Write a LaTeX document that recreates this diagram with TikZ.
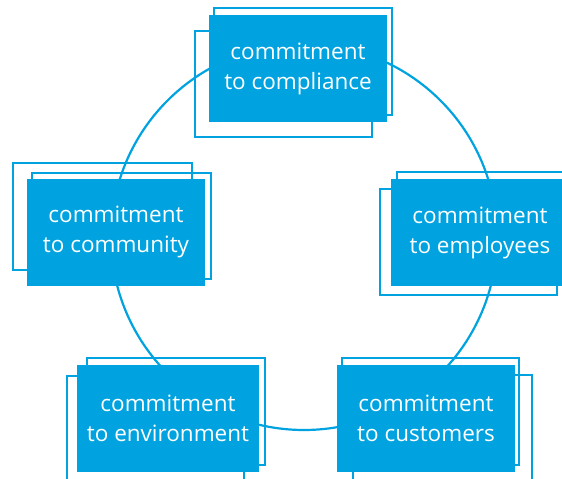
\documentclass[tikz,border=0pt]{standalone}
\usepackage{fontspec}
\setmainfont{Open Sans}
\definecolor{cblue}{RGB}{0,163,223}

\begin{document}
\begin{tikzpicture}[
    x=1pt, y=-1pt,
    pillar/.style={rectangle, fill=cblue, text=white, align=center,
        minimum height=107pt, inner sep=0pt,
        font=\fontsize{22.5}{30}\selectfont},
    frame/.style={draw=cblue, line width=1.2pt},
    ring/.style={draw=cblue, line width=2.2pt}
]
    \useasboundingbox (0,0) rectangle (562,479);

    % the ring joining the five commitments
    \draw[ring] (304,237) circle[radius=193pt];

    % offset outlines behind each box
    \draw[frame] (214,8) rectangle (392,115);
    \draw[frame] (195,31) rectangle (372,137);
    \draw[frame] (13,163) rectangle (192,270);
    \draw[frame] (32,173) rectangle (211,279);
    \draw[frame] (397,172) rectangle (575,279);
    \draw[frame] (380,189) rectangle (557,295);
    \draw[frame] (87,358) rectangle (265,465);
    \draw[frame] (67,376) rectangle (244,490);
    \draw[frame] (342,358) rectangle (519,465);
    \draw[frame] (353,375) rectangle (532,490);

    \node[pillar, minimum width=178pt] (compliance) at (298,68.5) {commitment\\to compliance};
    \node[pillar, minimum width=178pt] (community) at (116,232) {commitment\\to community};
    \node[pillar, minimum width=178pt] (employees) at (480,232.5) {commitment\\to employees};
    \node[pillar, minimum width=182pt] (environment) at (168,418.5) {commitment\\to environment};
    \node[pillar, minimum width=178pt] (customers) at (426,418.5) {commitment\\to customers};
\end{tikzpicture}
\end{document}
